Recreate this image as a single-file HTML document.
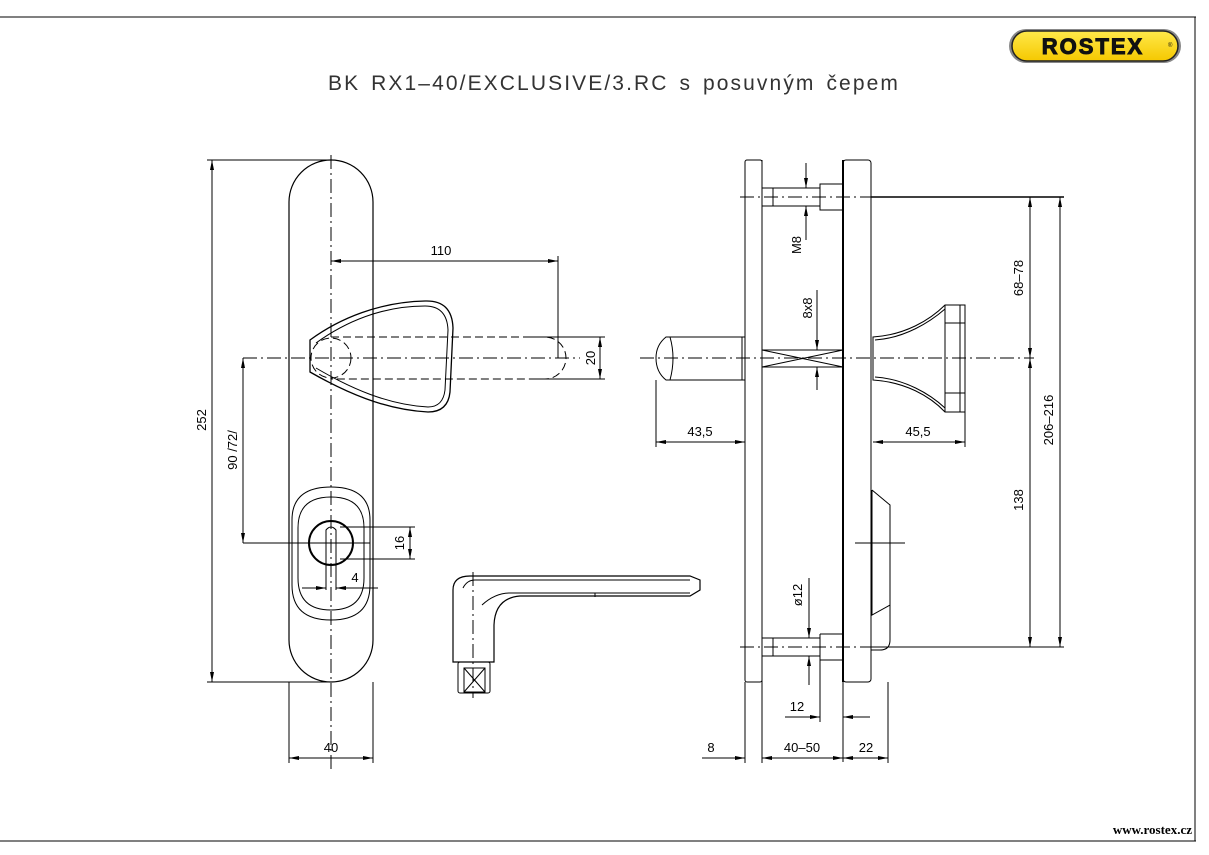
<!DOCTYPE html>
<html><head><meta charset="utf-8"><style>
html,body{margin:0;padding:0;background:#fff;}
svg{display:block;font-family:"Liberation Sans",sans-serif;}
</style></head><body>
<svg width="1209" height="855" viewBox="0 0 1209 855" xmlns="http://www.w3.org/2000/svg">
<defs>
<marker id="a" viewBox="0 0 10 4" refX="10" refY="2" markerWidth="10" markerHeight="4" orient="auto-start-reverse" markerUnits="userSpaceOnUse"><path d="M0,0L10,2L0,4z" fill="#000"/></marker>
<linearGradient id="lg" x1="0" y1="0" x2="0" y2="1"><stop offset="0" stop-color="#ffe94a"/><stop offset="1" stop-color="#f5c800"/></linearGradient>
</defs>
<g stroke="#000" fill="none" stroke-width="1">
<line x1="0" y1="17" x2="1196" y2="17"/>
<line x1="1195" y1="17" x2="1195" y2="841"/>
<line x1="0" y1="841" x2="1196" y2="841"/>
</g>
<rect x="1009" y="29" width="172" height="34" rx="17" fill="#888"/>
<rect x="1012" y="31" width="166" height="30" rx="15" fill="url(#lg)" stroke="#222" stroke-width="1.5"/>
<text x="1093" y="54" font-size="22" font-weight="bold" text-anchor="middle" letter-spacing="2" fill="#111" stroke="#111" stroke-width="1">ROSTEX</text>
<text x="1168" y="47" font-size="6" fill="#111">®</text>
<text x="614" y="90" font-size="21" text-anchor="middle" letter-spacing="2.1" word-spacing="3" fill="#333">BK  RX1–40/EXCLUSIVE/3.RC  s  posuvným  čepem</text>
<text x="1192" y="834" font-size="13" font-weight="bold" text-anchor="end" font-family="Liberation Serif,serif" fill="#000">www.rostex.cz</text>

<g stroke="#000" fill="none" stroke-width="1">
<path d="M289,640 L289,202 A42,42 0 0 1 373,202 L373,640 A42,42 0 0 1 289,640 Z" stroke-width="1.2"/>
<line x1="331" y1="155" x2="331" y2="770" stroke-dasharray="14,4,2,4"/>
<path d="M310,340 C340,318 380,302 425,301 Q452,300 453,328 L450,392 Q448,412 428,412 C385,410 345,392 310,372 Z" stroke-width="1.3"/>
<path d="M316,343 C345,322 382,306 425,306 Q447,306 448,330 L445,390 Q443,407 428,407 C388,405 350,388 316,368" />
<path d="M331,337 L545,337 A21,21 0 0 1 545,379 L331,379" stroke-dasharray="8,4"/>
<circle cx="331" cy="358" r="20" stroke-dasharray="8,4"/>
<line x1="243" y1="358" x2="580" y2="358" stroke-dasharray="14,4,2,4"/>
<line x1="331" y1="261" x2="558" y2="261" marker-start="url(#a)" marker-end="url(#a)"/>
<line x1="558" y1="256" x2="558" y2="358"/>
<line x1="530" y1="337" x2="605" y2="337"/>
<line x1="530" y1="379" x2="605" y2="379"/>
<line x1="600" y1="337" x2="600" y2="379" marker-start="url(#a)" marker-end="url(#a)"/>
<line x1="207" y1="160" x2="331" y2="160"/>
<line x1="207" y1="682" x2="331" y2="682"/>
<line x1="212" y1="160" x2="212" y2="682" marker-start="url(#a)" marker-end="url(#a)"/>
<line x1="243" y1="358" x2="243" y2="543" marker-start="url(#a)" marker-end="url(#a)"/>
<line x1="243" y1="543" x2="370" y2="543"/>
<path d="M292,520 Q292,487 331,487 Q370,487 370,520 L370,585 Q370,620 331,620 Q292,620 292,585 Z"/>
<path d="M298,528 Q298,497 331,497 Q364,497 364,528 L364,578 Q364,610 331,610 Q298,610 298,578 Z"/>
<circle cx="331" cy="543" r="22" stroke-width="2"/>
<path d="M326,590 L326,530 Q331,524 336,530 L336,590"/>
<line x1="340" y1="527" x2="415" y2="527"/>
<line x1="340" y1="559" x2="415" y2="559"/>
<line x1="410" y1="527" x2="410" y2="559" marker-start="url(#a)" marker-end="url(#a)"/>
<line x1="302" y1="588" x2="326" y2="588" marker-end="url(#a)"/>
<line x1="360" y1="588" x2="336" y2="588" marker-end="url(#a)"/>
<line x1="336" y1="588" x2="378" y2="588"/>
<line x1="289" y1="682" x2="289" y2="763"/>
<line x1="373" y1="682" x2="373" y2="763"/>
<line x1="289" y1="758" x2="373" y2="758" marker-start="url(#a)" marker-end="url(#a)"/>
<path d="M453,662 L453,590 Q453,576 470,576 L690,576 L700,580 L700,590 L690,596 L520,596 Q495,598 494,625 L494,662 Z" stroke-width="1.2"/>
<path d="M463,588 Q467,580 475,580 L690,580"/>
<path d="M482,605 Q495,593 510,593 L690,593"/>
<line x1="595" y1="593" x2="595" y2="597"/>
<line x1="473" y1="572" x2="473" y2="698" stroke-dasharray="14,4,2,4"/>
<rect x="458" y="662" width="32" height="31" rx="2"/>
<rect x="464" y="668" width="21" height="24"/>
<path d="M464,668 L485,692 M485,668 L464,692"/>

<rect x="745" y="160" width="17" height="522" rx="2"/>
<rect x="843" y="160" width="28" height="522" rx="3"/>
<line x1="843" y1="160" x2="843" y2="682" stroke-width="2"/>
<line x1="762" y1="160" x2="762" y2="682"/>
<rect x="762" y="188" width="58" height="18"/>
<line x1="773" y1="188" x2="773" y2="206"/>
<rect x="820" y="184" width="23" height="26"/>
<line x1="740" y1="197" x2="1064" y2="197" stroke-dasharray="14,4,2,4"/>
<line x1="871" y1="197" x2="1064" y2="197" stroke-width="1.5"/>
<line x1="806" y1="163" x2="806" y2="188" marker-end="url(#a)"/>
<line x1="806" y1="240" x2="806" y2="206" marker-end="url(#a)"/>
<rect x="762" y="638" width="58" height="18"/>
<line x1="773" y1="638" x2="773" y2="656"/>
<path d="M820,634 L843,634 M820,660 L843,660 M820,634 L820,722"/>
<line x1="740" y1="647" x2="1064" y2="647" stroke-dasharray="14,4,2,4"/>
<line x1="809" y1="578" x2="809" y2="638" marker-end="url(#a)"/>
<line x1="809" y1="685" x2="809" y2="656" marker-end="url(#a)"/>
<rect x="762" y="350" width="81" height="17"/>
<path d="M762,350 L843,367 M762,367 L843,350"/>
<line x1="817" y1="290" x2="817" y2="350" marker-end="url(#a)"/>
<line x1="817" y1="390" x2="817" y2="367" marker-end="url(#a)"/>
<line x1="640" y1="358" x2="1034" y2="358" stroke-dasharray="14,4,2,4"/>
<path d="M745,337 L666,337 Q656,345 656,358 Q656,372 666,380 L745,380"/>
<path d="M670,337 Q676,358 670,380"/>
<line x1="742" y1="337" x2="742" y2="380"/>
<path d="M873,337 C905,335 930,320 945,305 L965,305 L965,412 L945,412 C930,396 905,382 873,380 Z"/>
<path d="M875,340 C905,338 930,322 945,309 M875,377 C905,379 930,394 945,408"/>
<line x1="945" y1="305" x2="945" y2="412"/>
<line x1="960" y1="305" x2="960" y2="412"/>
<line x1="945" y1="323" x2="965" y2="323"/>
<line x1="945" y1="393" x2="965" y2="393"/>
<path d="M872,490 L890,505 L890,640 Q890,650 880,650 L871,650"/>
<path d="M872,490 L872,615 L890,605"/>
<line x1="855" y1="543" x2="905" y2="543"/>
<line x1="656" y1="380" x2="656" y2="447"/>
<line x1="656" y1="442" x2="745" y2="442" marker-start="url(#a)" marker-end="url(#a)"/>
<line x1="965" y1="412" x2="965" y2="447"/>
<line x1="873" y1="442" x2="965" y2="442" marker-start="url(#a)" marker-end="url(#a)"/>
<line x1="871" y1="647" x2="1064" y2="647"/>
<line x1="1030" y1="197" x2="1030" y2="358" marker-start="url(#a)" marker-end="url(#a)"/>
<line x1="1030" y1="358" x2="1030" y2="647" marker-start="url(#a)" marker-end="url(#a)"/>
<line x1="1060" y1="197" x2="1060" y2="647" marker-start="url(#a)" marker-end="url(#a)"/>
<line x1="843" y1="682" x2="843" y2="762"/>
<line x1="785" y1="717" x2="820" y2="717"/>
<line x1="800" y1="717" x2="820" y2="717" marker-end="url(#a)"/>
<line x1="870" y1="717" x2="843" y2="717" marker-end="url(#a)"/>
<line x1="745" y1="682" x2="745" y2="763"/>
<line x1="762" y1="682" x2="762" y2="763"/>
<line x1="888" y1="682" x2="888" y2="763"/>
<line x1="702" y1="758" x2="745" y2="758" marker-end="url(#a)"/>
<line x1="762" y1="758" x2="843" y2="758" marker-start="url(#a)" marker-end="url(#a)"/>
<line x1="843" y1="758" x2="888" y2="758" marker-start="url(#a)" marker-end="url(#a)"/>
</g>

<g font-size="13" fill="#000" text-anchor="middle">
<text x="441" y="255">110</text>
<text x="331" y="752">40</text>
<text x="355" y="582">4</text>
<text x="700" y="436">43,5</text>
<text x="918" y="436">45,5</text>
<text x="797" y="711">12</text>
<text x="711" y="752">8</text>
<text x="802" y="752">40–50</text>
<text x="866" y="752">22</text>
<text transform="translate(206,420) rotate(-90)">252</text>
<text transform="translate(237,450) rotate(-90)">90 /72/</text>
<text transform="translate(595,358) rotate(-90)">20</text>
<text transform="translate(404,543) rotate(-90)">16</text>
<text transform="translate(801,245) rotate(-90)">M8</text>
<text transform="translate(812,308) rotate(-90)">8x8</text>
<text transform="translate(802,595) rotate(-90)">ø12</text>
<text transform="translate(1023,278) rotate(-90)">68–78</text>
<text transform="translate(1023,500) rotate(-90)">138</text>
<text transform="translate(1053,420) rotate(-90)">206–216</text>
</g>
</svg>
</body></html>
